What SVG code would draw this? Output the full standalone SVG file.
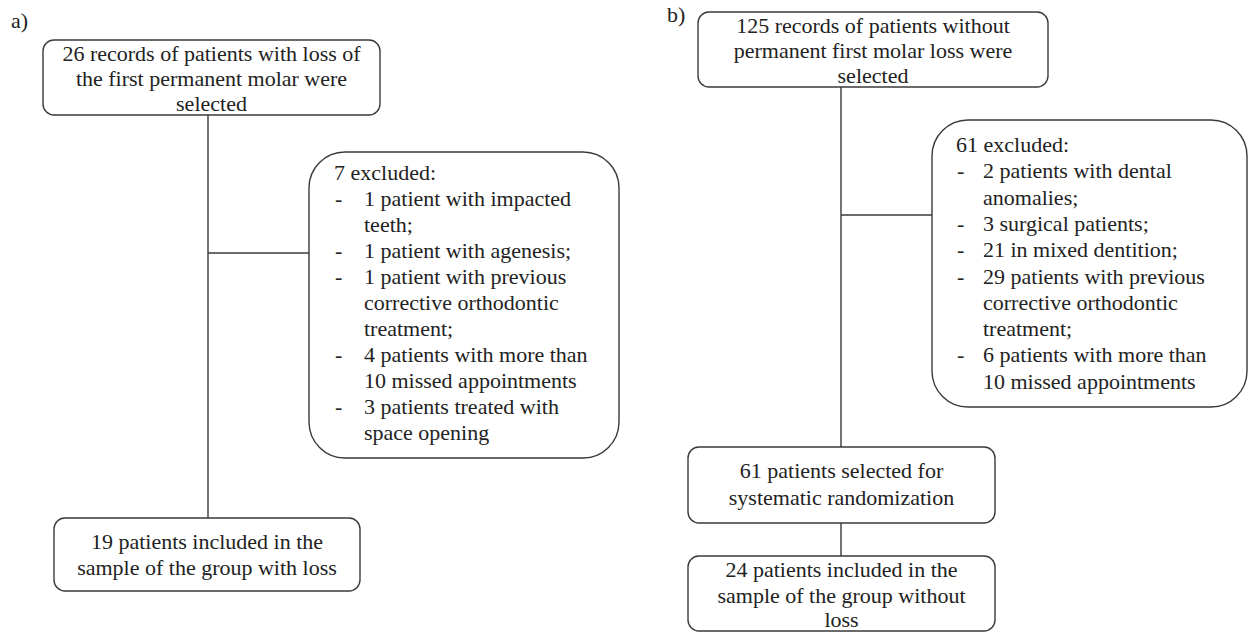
<svg xmlns="http://www.w3.org/2000/svg" width="1252" height="632" viewBox="0 0 1252 632">
<style>
.box{fill:#fff;stroke:#3a3a3a;stroke-width:1.4}
.ln{stroke:#3a3a3a;stroke-width:1.4;fill:none}
text{font-family:"Liberation Serif","Times New Roman",serif;font-size:22px;fill:#222}
.c{text-anchor:middle}
</style>
<rect width="1252" height="632" fill="#fff"/>
<g id="connectors">
<line class="ln" x1="208" y1="115" x2="208" y2="518"/>
<line class="ln" x1="208" y1="253" x2="309" y2="253"/>
<line class="ln" x1="841" y1="87" x2="841" y2="447"/>
<line class="ln" x1="841" y1="215" x2="932" y2="215"/>
<line class="ln" x1="841" y1="523" x2="841" y2="556"/>
</g>
<text x="11" y="28">a)</text>
<text x="667" y="22">b)</text>
<g id="a1">
<rect class="box" x="43" y="40" width="337" height="75" rx="11"/>
<text class="c" x="211.5" y="61">26 records of patients with loss of</text>
<text class="c" x="211.5" y="86">the first permanent molar were</text>
<text class="c" x="211.5" y="111">selected</text>
</g>
<g id="a2">
<rect class="box" x="309" y="152" width="310" height="306" rx="36"/>
<text x="334" y="180">7 excluded:</text>
<text x="335" y="206">-</text><text x="364" y="206">1 patient with impacted</text>
<text x="364" y="232">teeth;</text>
<text x="335" y="258">-</text><text x="364" y="258">1 patient with agenesis;</text>
<text x="335" y="284">-</text><text x="364" y="284">1 patient with previous</text>
<text x="364" y="310">corrective orthodontic</text>
<text x="364" y="336">treatment;</text>
<text x="335" y="362">-</text><text x="364" y="362">4 patients with more than</text>
<text x="364" y="388">10 missed appointments</text>
<text x="335" y="414">-</text><text x="364" y="414">3 patients treated with</text>
<text x="364" y="440">space opening</text>
</g>
<g id="a3">
<rect class="box" x="54" y="518" width="306" height="73" rx="11"/>
<text class="c" x="207" y="549">19 patients included in the</text>
<text class="c" x="207" y="575">sample of the group with loss</text>
</g>
<g id="b1">
<rect class="box" x="698" y="12" width="350" height="75" rx="11"/>
<text class="c" x="873" y="33">125 records of patients without</text>
<text class="c" x="873" y="58">permanent first molar loss were</text>
<text class="c" x="873" y="83">selected</text>
</g>
<g id="b2">
<rect class="box" x="932" y="120" width="315" height="287" rx="36"/>
<text x="956" y="152">61 excluded:</text>
<text x="957" y="178.3">-</text><text x="983" y="178.3">2 patients with dental</text>
<text x="983" y="204.6">anomalies;</text>
<text x="957" y="230.9">-</text><text x="983" y="230.9">3 surgical patients;</text>
<text x="957" y="257.2">-</text><text x="983" y="257.2">21 in mixed dentition;</text>
<text x="957" y="283.5">-</text><text x="983" y="283.5">29 patients with previous</text>
<text x="983" y="309.8">corrective orthodontic</text>
<text x="983" y="336.1">treatment;</text>
<text x="957" y="362.4">-</text><text x="983" y="362.4">6 patients with more than</text>
<text x="983" y="388.7">10 missed appointments</text>
</g>
<g id="b3">
<rect class="box" x="688" y="447" width="307" height="76" rx="11"/>
<text class="c" x="841.5" y="478">61 patients selected for</text>
<text class="c" x="841.5" y="505">systematic randomization</text>
</g>
<g id="b4">
<rect class="box" x="688" y="556" width="307" height="75" rx="11"/>
<text class="c" x="841.5" y="577">24 patients included in the</text>
<text class="c" x="841.5" y="603">sample of the group without</text>
<text class="c" x="841.5" y="627">loss</text>
</g>
</svg>
